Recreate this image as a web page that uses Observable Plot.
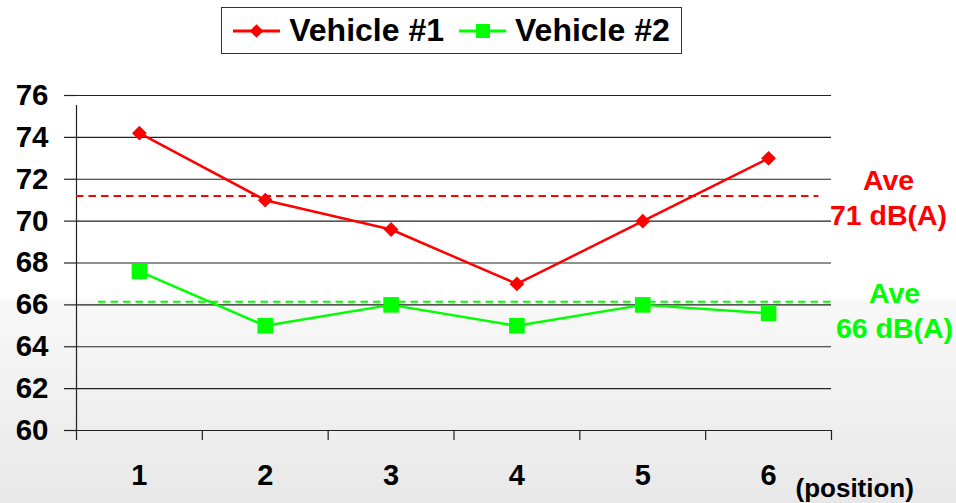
<!DOCTYPE html>
<html>
<head>
<meta charset="utf-8">
<script src="https://cdn.jsdelivr.net/npm/d3@7"></script>
<script src="https://cdn.jsdelivr.net/npm/@observablehq/plot@0.6"></script>
<style>
  html, body { margin: 0; padding: 0; }
  body {
    width: 956px; height: 503px; overflow: hidden;
    font-family: "Liberation Sans", Arial, Helvetica, sans-serif;
    background: linear-gradient(to bottom, #ffffff 0%, #ffffff 59%, #f8f8f8 60%, #e8e8e8 100%);
  }
  #wrap { position: relative; width: 956px; height: 503px; }
  #legend {
    position: absolute; left: 221px; top: 7px; width: 461px; height: 47px;
    border: 1.5px solid #333; background: #fff; box-sizing: border-box;
    display: flex; align-items: center; justify-content: center; gap: 15px;
    font-weight: bold; font-size: 32px; color: #000;
  }
  .item { display: flex; align-items: center; gap: 9px; }
  #chart { position: absolute; left: 0; top: 0; }
</style>
</head>
<body>
<div id="wrap">
  <div id="chart"></div>
  <div id="legend"></div>
</div>
<script>
const positions = [1, 2, 3, 4, 5, 6];
const vehicle1 = [74.2, 71.0, 69.6, 67.0, 70.0, 73.0];
const vehicle2 = [67.6, 65.0, 66.0, 65.0, 66.0, 65.6];
const seriesNames = ["Vehicle #1", "Vehicle #2"];
const seriesColors = ["#ff0000", "#00ff00"];
const averages = [71.2, 66.15];
const averageLabels = ["Ave\n71 dB(A)", "Ave\n66 dB(A)"];
const yTicks = [60, 62, 64, 66, 68, 70, 72, 74, 76];
const xBoundaries = [0.5, 1.5, 2.5, 3.5, 4.5, 5.5, 6.5];
const xAxisLabel = "(position)";

const d1 = positions.map((p, i) => ({x: p, y: vehicle1[i]}));
const d2 = positions.map((p, i) => ({x: p, y: vehicle2[i]}));

const font = "Liberation Sans, Arial, sans-serif";

const chart = Plot.plot({
  width: 956,
  height: 503,
  marginLeft: 76,
  marginRight: 125,
  marginTop: 95,
  marginBottom: 73,
  style: {background: "transparent", fontFamily: font, overflow: "visible"},
  x: {domain: [0.5, 6.5]},
  y: {domain: [60, 76]},
  marks: [
    Plot.ruleY(yTicks, {stroke: "#222", strokeWidth: 1.2}),
    Plot.axisY({ticks: yTicks, tickSize: 12, tickPadding: 16, fontSize: 29.5, fontWeight: "bold", fill: "#000", stroke: "#222", strokeWidth: 1.2, label: null, tickFormat: d => String(d)}),
    Plot.axisX({ticks: xBoundaries, tickSize: 10, tickFormat: () => "", stroke: "#222", strokeWidth: 1.2, label: null}),
    Plot.axisX({ticks: positions, tickSize: 0, tickPadding: 34, fontSize: 29, fontWeight: "bold", fill: "#000", label: null, tickFormat: d => String(d)}),
    Plot.ruleX([0.5], {y1: 60, y2: 76, insetBottom: -10, stroke: "#222", strokeWidth: 1.2}),
    Plot.ruleY([averages[0]], {x1: 0.5, x2: 6.4, stroke: seriesColors[0], strokeWidth: 2, strokeDasharray: "7.5,5"}),
    Plot.ruleY([averages[1]], {x1: 0.675, x2: 6.5, stroke: seriesColors[1], strokeWidth: 2, strokeDasharray: "7.5,5"}),
    Plot.line(d1, {x: "x", y: "y", stroke: seriesColors[0], strokeWidth: 2.5}),
    Plot.line(d2, {x: "x", y: "y", stroke: seriesColors[1], strokeWidth: 2.5}),
    Plot.dot(d1, {x: "x", y: "y", symbol: "diamond2", r: 6.7, fill: seriesColors[0], stroke: "none"}),
    Plot.dot(d2, {x: "x", y: "y", symbol: "square", r: 8.8, fill: seriesColors[1], stroke: "none"}),
    Plot.text([averageLabels[0]], {x: 6.5, y: averages[0], text: d => d, dx: 57, fill: seriesColors[0], fontSize: 28.5, fontWeight: "bold", lineHeight: 1.22, lineAnchor: "middle", textAnchor: "middle"}),
    Plot.text([averageLabels[1]], {x: 6.5, y: averages[1], text: d => d, dx: 63, dy: 8, fill: seriesColors[1], fontSize: 28.5, fontWeight: "bold", lineHeight: 1.22, lineAnchor: "middle", textAnchor: "middle"}),
    Plot.text([xAxisLabel], {x: 6.5, y: 60, text: d => d, dx: -36, dy: 58, textAnchor: "start", lineAnchor: "middle", fontSize: 26, fontWeight: "bold", fill: "#000"})
  ]
});
document.getElementById("chart").appendChild(chart);

// Legend
const legend = document.getElementById("legend");
seriesNames.forEach((name, i) => {
  const item = document.createElement("div");
  item.className = "item";
  const sw = d3.create("svg").attr("width", 47).attr("height", 20);
  sw.append("line").attr("x1", 0).attr("x2", 47).attr("y1", 10).attr("y2", 10)
    .attr("stroke", seriesColors[i]).attr("stroke-width", 2.8);
  if (i === 0) {
    sw.append("path").attr("d", d3.symbol(d3.symbolDiamond2, 120)()).attr("transform", "translate(23.5,10)").attr("fill", seriesColors[i]);
  } else {
    sw.append("rect").attr("x", 17).attr("y", 3).attr("width", 14).attr("height", 14).attr("fill", seriesColors[i]);
  }
  item.appendChild(sw.node());
  const t = document.createElement("span");
  t.textContent = name;
  item.appendChild(t);
  legend.appendChild(item);
});
</script>
</body>
</html>
